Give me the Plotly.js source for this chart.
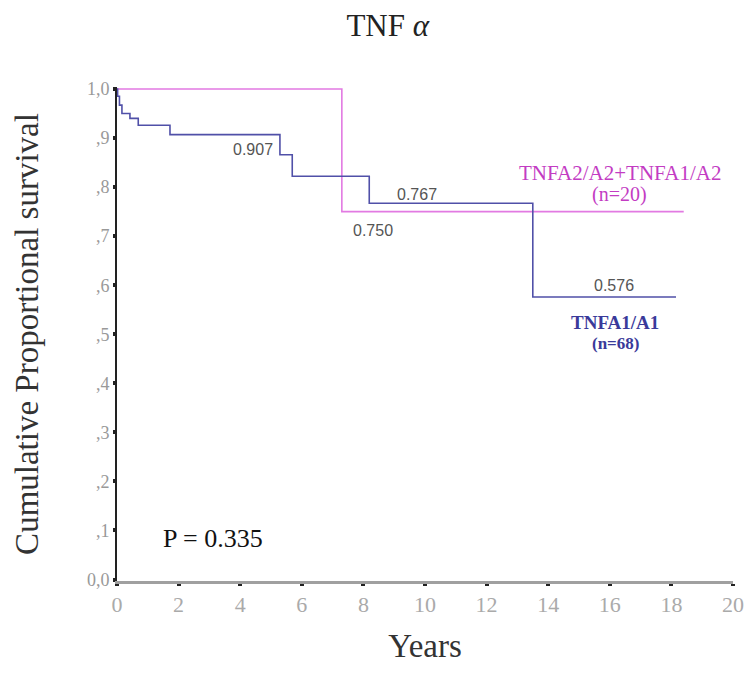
<!DOCTYPE html>
<html>
<head>
<meta charset="utf-8">
<script src="https://cdn.plot.ly/plotly-3.0.1.min.js"></script>
<style>
  html, body { margin: 0; padding: 0; background: #fff; }
  #chart { width: 750px; height: 673px; }
</style>
</head>
<body>
<div id="chart"></div>
<script>
// Kaplan-Meier survival by TNF alpha genotype
const groupNames = ['TNFA1/A1', 'TNFA2/A2+TNFA1/A2'];
const groupN = [68, 20];

// TNFA1/A1 (n=68): step times (years) and cumulative survival
const a1Times = [0, 0.02, 0.08, 0.16, 0.42, 0.69, 1.72, 5.29, 5.69, 8.19, 13.5, 18.15];
const a1Surv  = [1.0, 0.985, 0.967, 0.950, 0.940, 0.926, 0.907, 0.866, 0.822, 0.767, 0.576, 0.576];

// TNFA2/A2+TNFA1/A2 (n=20)
const a2Times = [0, 7.3, 18.4];
const a2Surv  = [1.0, 0.750, 0.750];

const xTicks = [0, 2, 4, 6, 8, 10, 12, 14, 16, 18, 20];
const yTicks = [0, 0.1, 0.2, 0.3, 0.4, 0.5, 0.6, 0.7, 0.8, 0.9, 1.0];
const yTickText = ['0,0', ',1', ',2', ',3', ',4', ',5', ',6', ',7', ',8', ',9', '1,0'];

const pValueText = 'P = 0.335';

const blue = '#5050a8';
const pink = '#e27ae2';
const serif = 'Liberation Serif, Times New Roman, serif';
const sans = 'Liberation Sans, Arial, sans-serif';

const traces = [
  {
    x: a2Times, y: a2Surv, type: 'scatter', mode: 'lines',
    line: { shape: 'hv', color: pink, width: 1.6 },
    name: groupNames[1], hoverinfo: 'x+y'
  },
  {
    x: a1Times, y: a1Surv, type: 'scatter', mode: 'lines',
    line: { shape: 'hv', color: blue, width: 1.6 },
    name: groupNames[0], hoverinfo: 'x+y'
  }
];

// survival values printed next to the curves
function valueLabel(val, x, y) {
  return {
    x: x, y: y, xref: 'x', yref: 'y', text: val.toFixed(3), showarrow: false,
    font: { family: sans, size: 16, color: '#555' }
  };
}

const annotations = [
  valueLabel(a1Surv[6], 4.42, 0.877),
  valueLabel(a1Surv[9], 9.74, 0.785),
  valueLabel(a2Surv[1], 8.31, 0.711),
  valueLabel(a1Surv[10], 16.14, 0.599),
  {
    x: 16.33, y: 0.828, xref: 'x', yref: 'y', text: groupNames[1], showarrow: false,
    font: { family: serif, size: 21, color: '#c33cc3' }
  },
  {
    x: 16.33, y: 0.785, xref: 'x', yref: 'y', text: '(n=' + groupN[1] + ')', showarrow: false,
    font: { family: serif, size: 20, color: '#c33cc3' }
  },
  {
    x: 16.17, y: 0.524, xref: 'x', yref: 'y', text: '<b>' + groupNames[0] + '</b>', showarrow: false,
    font: { family: serif, size: 19, color: '#3a3a9a' }
  },
  {
    x: 16.17, y: 0.482, xref: 'x', yref: 'y', text: '<b>(n=' + groupN[0] + ')</b>', showarrow: false,
    font: { family: serif, size: 17, color: '#3a3a9a' }
  },
  {
    x: 3.12, y: 0.083, xref: 'x', yref: 'y', text: pValueText, showarrow: false,
    font: { family: serif, size: 26, color: '#111' }
  }
];

const layout = {
  width: 750, height: 673,
  margin: { l: 117, r: 17, t: 87, b: 92 },
  paper_bgcolor: '#fff', plot_bgcolor: '#fff',
  showlegend: false,
  title: {
    text: 'TNF <i>α</i>',
    x: 0.517, xref: 'container', xanchor: 'center',
    y: 0.962, yref: 'container', yanchor: 'middle',
    font: { family: serif, size: 31, color: '#222' }
  },
  xaxis: {
    range: [0, 20], tickvals: xTicks, ticktext: xTicks.map(String),
    showgrid: false, zeroline: false,
    showline: true, linecolor: '#a0a0a0', linewidth: 3,
    ticks: 'outside', ticklen: 2, tickwidth: 4, tickcolor: '#222',
    tickfont: { family: serif, size: 22, color: '#aaa' },
    title: { text: 'Years', standoff: 18, font: { family: serif, size: 33, color: '#333' } }
  },
  yaxis: {
    range: [-0.003, 1.004], tickvals: yTicks, ticktext: yTickText,
    showgrid: false, zeroline: false,
    showline: true, linecolor: '#222', linewidth: 2,
    ticks: 'outside', ticklen: 2, tickwidth: 4, tickcolor: '#222',
    tickfont: { family: serif, size: 18, color: '#999' },
    title: { text: 'Cumulative Proportional survival', standoff: 38, font: { family: serif, size: 33, color: '#333' } }
  },
  annotations: annotations
};

Plotly.newPlot('chart', traces, layout, { displayModeBar: false, staticPlot: true });
</script>
</body>
</html>
